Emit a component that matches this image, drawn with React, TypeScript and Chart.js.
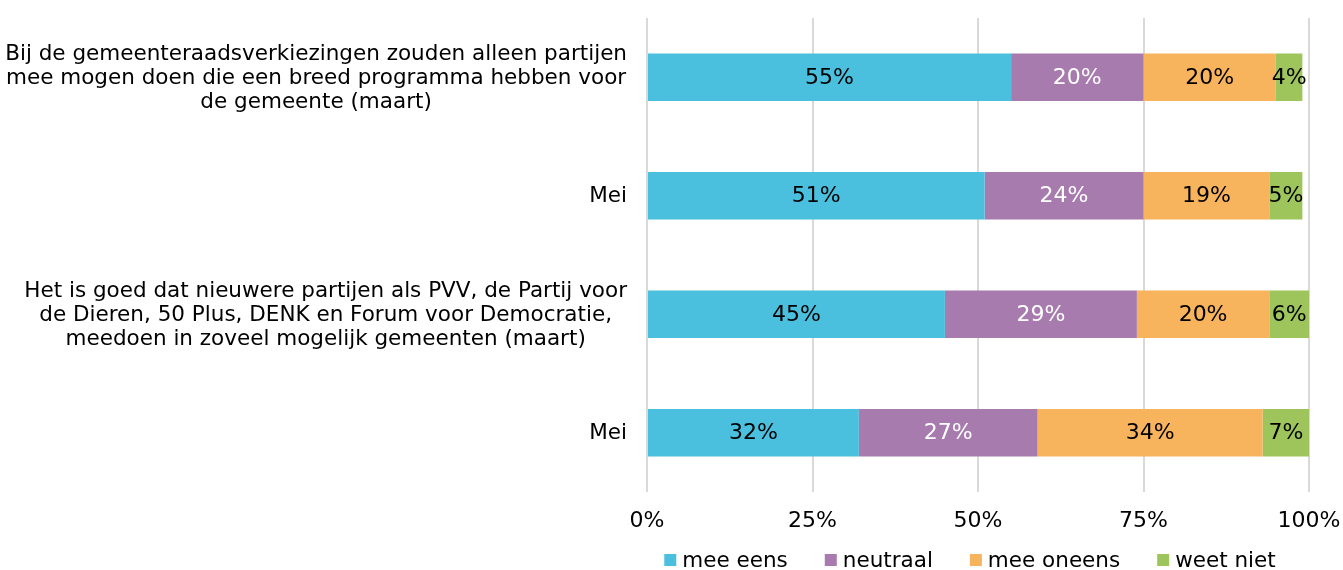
import React, { useEffect, useRef } from 'react';
import { Chart, registerables } from 'chart.js';

Chart.register(...registerables);

const categories: string[][] = [
  [
    'Bij de gemeenteraadsverkiezingen zouden alleen partijen',
    'mee mogen doen die een breed programma hebben voor',
    'de gemeente (maart)',
  ],
  ['Mei'],
  [
    'Het is goed dat nieuwere partijen als PVV, de Partij voor',
    'de Dieren, 50 Plus, DENK en Forum voor Democratie,',
    'meedoen in zoveel mogelijk gemeenten (maart)',
  ],
  ['Mei'],
];

const seriesNames = ['mee eens', 'neutraal', 'mee oneens', 'weet niet'];
const meeEens = [55, 51, 45, 32];
const neutraal = [20, 24, 29, 27];
const meeOneens = [20, 19, 20, 34];
const weetNiet = [4, 5, 6, 7];
const xTickValues = [0, 25, 50, 75, 100];

const palette = ['#4abfde', '#a87bae', '#f8b45c', '#9dc55b'];
const valueTextColors = ['#000000', '#ffffff', '#000000', '#000000'];

const FONT = "'DejaVu Sans', Verdana, sans-serif";
const LABEL_SIZE = 21.5;
const VALUE_SIZE = 22;

const yLabelPlugin = {
  id: 'yLabelPlugin',
  afterDraw(chart: any) {
    const ctx = chart.ctx;
    const yScale = chart.scales.y;
    const area = chart.chartArea;
    const lineH = 24;
    ctx.save();
    ctx.font = `${LABEL_SIZE}px ${FONT}`;
    ctx.fillStyle = '#000000';
    ctx.textBaseline = 'middle';
    ctx.textAlign = 'center';
    categories.forEach((lines, i) => {
      const yc = yScale.getPixelForTick(i);
      const widest = Math.max(...lines.map((l) => ctx.measureText(l).width));
      const right = area.left - 20;
      const xc = right - widest / 2;
      lines.forEach((line, j) => {
        const y = yc + (j - (lines.length - 1) / 2) * lineH;
        ctx.fillText(line, xc, y + 1);
      });
    });
    ctx.restore();
  },
};

const valueLabelPlugin = {
  id: 'valueLabelPlugin',
  afterDatasetsDraw(chart: any) {
    const ctx = chart.ctx;
    ctx.save();
    ctx.font = `${VALUE_SIZE}px ${FONT}`;
    ctx.textAlign = 'center';
    ctx.textBaseline = 'middle';
    chart.data.datasets.forEach((ds: any, di: number) => {
      const meta = chart.getDatasetMeta(di);
      meta.data.forEach((el: any, i: number) => {
        const v = ds.data[i];
        const cx = (el.x + el.base) / 2;
        ctx.fillStyle = valueTextColors[di];
        ctx.fillText(`${v}%`, cx, el.y + 1);
      });
    });
    ctx.restore();
  },
};

// Legend drawn below the plot area, centred on it (like the original).
const legendPlugin = {
  id: 'bottomLegend',
  afterDraw(chart: any) {
    const ctx = chart.ctx;
    const area = chart.chartArea;
    const box = 12;
    const textGap = 6;
    const itemGap = 37;
    const yMid = 560;
    ctx.save();
    ctx.font = `${LABEL_SIZE}px ${FONT}`;
    const items = chart.data.datasets.map((ds: any) => ({
      text: ds.label as string,
      color: ds.backgroundColor as string,
      w: ctx.measureText(ds.label).width,
    }));
    const total =
      items.reduce((s: number, it: any) => s + box + textGap + it.w, 0) + itemGap * (items.length - 1);
    let x = (area.left + area.right) / 2 - 8 - total / 2;
    ctx.textBaseline = 'middle';
    ctx.textAlign = 'left';
    items.forEach((it: any) => {
      ctx.fillStyle = it.color;
      ctx.fillRect(x, yMid - box / 2, box, box);
      ctx.fillStyle = '#000000';
      ctx.fillText(it.text, x + box + textGap, yMid + 1);
      x += box + textGap + it.w + itemGap;
    });
    ctx.restore();
  },
};

export default function App() {
  const canvasRef = useRef<HTMLCanvasElement | null>(null);

  useEffect(() => {
    if (!canvasRef.current) return;
    const seriesData = [meeEens, neutraal, meeOneens, weetNiet];
    const chart = new Chart(canvasRef.current, {
      type: 'bar',
      data: {
        labels: categories.map((c) => c.join(' ')),
        datasets: seriesNames.map((name, i) => ({
          label: name,
          data: seriesData[i],
          backgroundColor: palette[i],
          borderWidth: 0,
          barPercentage: 0.8,
          categoryPercentage: 0.5,
        })),
      },
      options: {
        indexAxis: 'y',
        animation: false,
        responsive: true,
        maintainAspectRatio: false,
        layout: { padding: { top: 18, right: 34, left: 0, bottom: 0 } },
        scales: {
          x: {
            stacked: true,
            min: 0,
            max: 100,
            afterBuildTicks(scale: any) {
              scale.ticks = xTickValues.map((v) => ({ value: v }));
            },
            afterFit(scale: any) {
              scale.paddingLeft = 0;
              scale.paddingRight = 0;
              scale.height = 78;
            },
            grid: { color: '#d9d9d9', lineWidth: 2, drawTicks: false },
            border: { display: false },
            ticks: {
              padding: 16,
              color: '#000000',
              font: { family: FONT, size: VALUE_SIZE },
              callback: (v: any) => `${v}%`,
            },
          },
          y: {
            stacked: true,
            grid: { display: false },
            border: { display: false },
            ticks: { display: false },
            afterFit(scale: any) {
              scale.width = 647;
            },
          },
        },
        plugins: {
          legend: { display: false },
          tooltip: { enabled: false },
        },
      },
      plugins: [yLabelPlugin, valueLabelPlugin, legendPlugin],
    });
    return () => chart.destroy();
  }, []);

  return (
    <div style={{ position: 'absolute', left: 0, top: 0, width: 1343, height: 570 }}>
      <canvas ref={canvasRef} />
    </div>
  );
}
